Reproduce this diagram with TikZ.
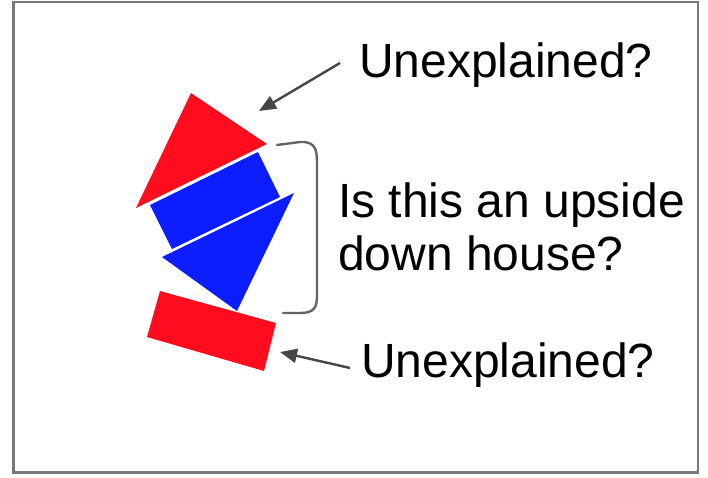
\documentclass[tikz,border=0pt]{standalone}
\usepackage{fontspec}
\setmainfont{Liberation Sans}
\usetikzlibrary{arrows.meta}
\definecolor{hred}{RGB}{255,12,30}
\definecolor{hblue}{RGB}{12,30,255}
\definecolor{framegray}{RGB}{120,120,120}
\definecolor{arrowgray}{RGB}{70,70,70}
\definecolor{bracegray}{RGB}{100,100,100}
\begin{document}
\begin{tikzpicture}[x=1pt,y=-1pt,
  redpart/.style={fill=hred},
  bluepart/.style={fill=hblue},
  label/.style={inner sep=0pt,font=\fontsize{48}{53}\selectfont,text=black},
  pointer/.style={draw=arrowgray,line width=2.4pt,-{Triangle[length=17pt,width=14pt]}},
  brace/.style={draw=bracegray,line width=2.4pt,line cap=round}]
\useasboundingbox (0,0) rectangle (708,477);
\fill[white] (0,0) rectangle (708,477);
\draw[framegray,line width=2.6pt] (13.5,2) rectangle (698,472.5);
% shapes
\fill[redpart] (191,93) -- (136,208) -- (267,144) -- cycle;
\fill[bluepart] (150,205) -- (258,152) -- (280,197) -- (172,249) -- cycle;
\fill[bluepart] (162,257) -- (294,193) -- (237,311) -- cycle;
\fill[redpart] (160,291) -- (276,323) -- (264,371) -- (147,337) -- cycle;
% texts
\node[label,anchor=base west] (top) at (359,77) {Unexplained?};
\node[label,anchor=base west,align=left] (mid) at (338,270) {Is this an upside\\down house?};
\node[label,anchor=base west] (bot) at (361,377) {Unexplained?};
% arrows
\coordinate (topstart) at (340,63);
\coordinate (toptip) at (259,111);
\coordinate (botstart) at (350,368);
\coordinate (bottip) at (280,352);
\draw[pointer] (topstart) -- (toptip);
\draw[pointer] (botstart) -- (bottip);
% bracket
\coordinate (bra) at (277,145);
\coordinate (brb) at (283,313);
\draw[brace] (bra) -- (300,142) .. controls (317,141) and (317,152) .. (317,165) -- (317,295) .. controls (317,308) and (314,313) .. (300,313) -- (brb);
\end{tikzpicture}
\end{document}
